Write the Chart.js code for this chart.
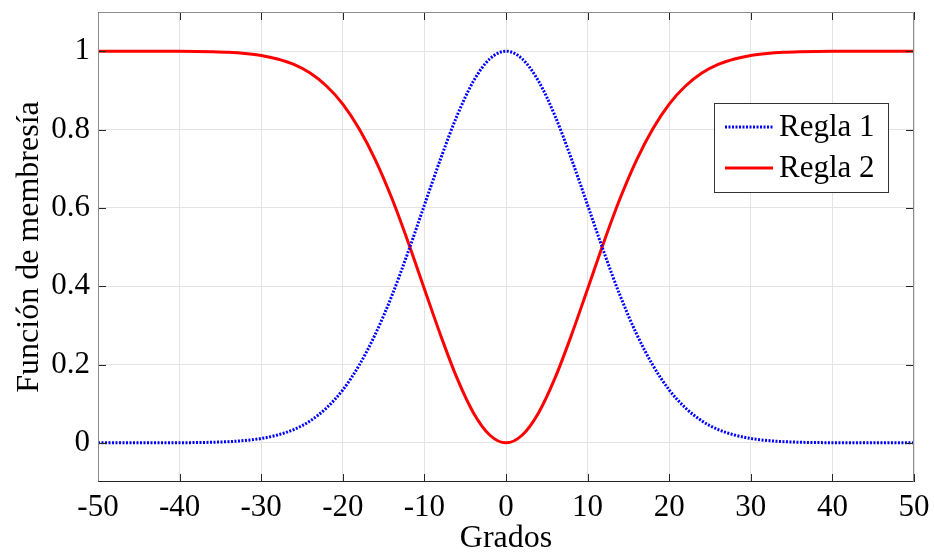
<!DOCTYPE html>
<html>
<head>
<meta charset="utf-8">
<script src="https://cdn.jsdelivr.net/npm/chart.js@4/dist/chart.umd.min.js"></script>
<style>
html,body{margin:0;padding:0;background:#fff;}
#wrap{width:934px;height:558px;position:relative;}
</style>
</head>
<body>
<div id="wrap"><canvas id="c" width="934" height="558"></canvas></div>
<script>
// Grados (x) sampled every 2 degrees
const grados = [-50,-48,-46,-44,-42,-40,-38,-36,-34,-32,-30,-28,-26,-24,-22,-20,-18,-16,-14,-12,-10,-8,-6,-4,-2,0,
  2,4,6,8,10,12,14,16,18,20,22,24,26,28,30,32,34,36,38,40,42,44,46,48,50];
const regla1 = [0,0,0,0,0.0001,0.0003,0.0007,0.0015,0.003,0.006,0.011,0.020,0.034,0.056,0.089,0.135,0.198,0.278,0.375,0.487,0.607,0.726,0.835,0.923,0.980,1,
  0.980,0.923,0.835,0.726,0.607,0.487,0.375,0.278,0.198,0.135,0.089,0.056,0.034,0.020,0.011,0.006,0.003,0.0015,0.0007,0.0003,0.0001,0,0,0,0];
const regla2 = [1,1,1,1,0.9999,0.9997,0.9993,0.9985,0.997,0.994,0.989,0.980,0.966,0.944,0.911,0.865,0.802,0.722,0.625,0.513,0.393,0.274,0.165,0.077,0.020,0,
  0.020,0.077,0.165,0.274,0.393,0.513,0.625,0.722,0.802,0.865,0.911,0.944,0.966,0.980,0.989,0.994,0.997,0.9985,0.9993,0.9997,0.9999,1,1,1,1];
const xTicks = [-50,-40,-30,-20,-10,0,10,20,30,40,50];
const yTicks = [0,0.2,0.4,0.6,0.8,1];
const seriesNames = ['Regla 1','Regla 2'];
const xTitle = 'Grados';
const yTitle = 'Función de membresía';

const FONT = "'Liberation Serif','Times New Roman',serif";

const boxPlugin = {
  id:'boxPlugin',
  afterDatasetsDraw(chart){
    const {ctx, chartArea:a, scales} = chart;
    ctx.save();
    ctx.lineWidth = 1;
    ctx.strokeStyle = '#262626';
    const tl = 8;
    ctx.beginPath();
    xTicks.forEach(v=>{
      const px = Math.round(scales.x.getPixelForValue(v))+0.5;
      ctx.moveTo(px, a.bottom); ctx.lineTo(px, a.bottom - tl);
      ctx.moveTo(px, a.top); ctx.lineTo(px, a.top + tl);
    });
    yTicks.forEach(v=>{
      const py = Math.round(scales.y.getPixelForValue(v))+0.5;
      ctx.moveTo(a.left, py); ctx.lineTo(a.left + tl, py);
      ctx.moveTo(a.right, py); ctx.lineTo(a.right - tl, py);
    });
    ctx.stroke();
    const L = Math.round(a.left)+0.5, R = Math.round(a.right)-0.5, T = Math.round(a.top)+0.5, B = Math.round(a.bottom)-0.5;
    ctx.strokeStyle = '#8c8c8c';
    ctx.beginPath();
    ctx.moveTo(L,B); ctx.lineTo(L,T); ctx.lineTo(R,T); ctx.lineTo(R,B);
    ctx.stroke();
    ctx.strokeStyle = '#262626';
    ctx.beginPath(); ctx.moveTo(L,B); ctx.lineTo(R,B); ctx.stroke();

    // legend
    const lx = 714, ly = 103, lw = 174, lh = 89;
    ctx.fillStyle = '#fff';
    ctx.fillRect(lx, ly, lw, lh);
    ctx.strokeStyle = '#333';
    ctx.strokeRect(lx+0.5, ly+0.5, lw, lh);
    const ds = chart.data.datasets;
    const rows = [127, 168];
    ds.forEach((d,i)=>{
      ctx.strokeStyle = d.borderColor;
      ctx.lineWidth = d.borderWidth;
      ctx.setLineDash(d.borderDash || []);
      ctx.beginPath(); ctx.moveTo(725, rows[i]); ctx.lineTo(773, rows[i]); ctx.stroke();
      ctx.setLineDash([]);
      ctx.fillStyle = '#000';
      ctx.font = "31px " + FONT;
      ctx.textBaseline = 'middle';
      ctx.textAlign = 'left';
      ctx.fillText(d.label, 779, rows[i]+1);
    });
    ctx.restore();
  }
};

new Chart(document.getElementById('c'), {
  type:'line',
  data:{
    labels: grados,
    datasets:[
      {label: seriesNames[0], data: grados.map((x,i)=>({x, y: regla1[i]})), borderColor:'#0000ff', borderWidth:3, borderDash:[2,1.5], pointRadius:0, cubicInterpolationMode:'monotone', fill:false},
      {label: seriesNames[1], data: grados.map((x,i)=>({x, y: regla2[i]})), borderColor:'#ff0000', borderWidth:3, pointRadius:0, cubicInterpolationMode:'monotone', fill:false}
    ]
  },
  options:{
    responsive:false,
    animation:false,
    layout:{padding:{top:12,right:20,left:0,bottom:0}},
    plugins:{legend:{display:false}, tooltip:{enabled:false}},
    scales:{
      x:{
        type:'linear', min:-50, max:50,
        afterBuildTicks(s){ s.ticks = xTicks.map(v=>({value:v})); },
        afterFit(s){ s.height = 76; s.paddingLeft = 0; s.paddingRight = 0; },
        ticks:{font:{family:FONT,size:31}, color:'#000', padding:7, maxRotation:0, autoSkip:false},
        grid:{color:'#e3e3e3', drawTicks:false},
        border:{display:false},
        title:{display:true, text:xTitle, font:{family:FONT,size:32, lineHeight:1.2}, color:'#000', padding:{top:0,bottom:0}}
      },
      y:{
        type:'linear', min:-0.1, max:1.1,
        afterBuildTicks(s){ s.ticks = yTicks.map(v=>({value:v})); },
        afterFit(s){ s.width = 98; s.paddingTop = 0; s.paddingBottom = 0; },
        ticks:{font:{family:FONT,size:31}, color:'#000', padding:8, callback:(v)=>String(Math.round(v*10)/10)},
        grid:{color:'#e3e3e3', drawTicks:false},
        border:{display:false},
        title:{display:true, text:yTitle, font:{family:FONT,size:32, lineHeight:1.2}, color:'#000', padding:{top:10,bottom:0}}
      }
    }
  },
  plugins:[boxPlugin]
});
</script>
</body>
</html>
